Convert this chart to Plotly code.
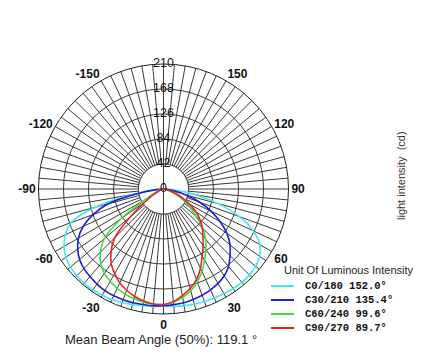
import plotly.graph_objects as go

# ---------------- data ----------------
angles = [0, 5, 10, 15, 20, 25, 30, 35, 40, 45, 50, 55, 60, 65, 70, 75, 80, 85, 90]

series_names = ["C0/180 152.0°", "C30/210 135.4°", "C60/240 99.6°", "C90/270 89.7°"]
series_colors = ["#45e6ee", "#1f1fd2", "#3fdc3f", "#e62424"]

# intensity (cd) on the positive side (0..90) and negative side (0..-90)
c0_right = [197, 198, 199, 200, 201, 202, 203, 204, 205, 204, 202, 197, 187, 166, 136, 95, 52, 20, 0]
c0_left = [197, 198, 199, 201, 203, 205, 206, 207, 207, 206, 204, 200, 193, 182, 165, 120, 55, 18, 0]
c30_right = [196, 195, 194, 192, 190, 187, 183, 178, 170, 158, 146, 130, 110, 88, 65, 40, 18, 6, 0]
c30_left = [196, 197, 197, 198, 198, 198, 197, 195, 192, 189, 184, 176, 165, 149, 126, 97, 45, 12, 0]
c60_right = [194, 191, 185, 177, 166, 153, 138, 124, 110, 93, 72, 55, 40, 27, 16, 8, 3, 1, 0]
c60_left = [194, 194, 193, 191, 188, 184, 179, 173, 164, 150, 130, 87, 35, 18, 10, 5, 2, 1, 0]
c90_right = [194, 190, 182, 173, 162, 147, 130, 116, 103, 92, 80, 66, 50, 35, 20, 10, 5, 2, 0]
c90_left = [194, 194, 191, 187, 181, 174, 164, 153, 137, 116, 72, 38, 20, 10, 5, 2, 1, 0, 0]

rights = [c0_right, c30_right, c60_right, c90_right]
lefts = [c0_left, c30_left, c60_left, c90_left]

radial_ticks = [0, 42, 84, 126, 168, 210]
angle_tick_labels = {0: "0", 30: "30", 60: "60", 90: "90", 120: "120", 150: "150",
                     210: "-150", 240: "-120", 270: "-90", 300: "-60", 330: "-30"}

legend_title = "Unit Of Luminous Intensity"
axis_title = "light intensity  (cd)"
footer = "Mean Beam Angle (50%): 119.1 °"

# ---------------- figure ----------------
W, H = 422, 362
GRID = "#3a3a3a"
SANS = "Liberation Sans, Arial, sans-serif"
MONO = "Liberation Mono, Courier New, monospace"

fig = go.Figure()

# white hole in the middle (covers spokes inside the first ring)
hole_theta = list(range(0, 361, 2))
fig.add_trace(go.Scatterpolar(
    r=[radial_ticks[1]] * len(hole_theta), theta=hole_theta, mode="lines",
    fill="toself", fillcolor="white", line=dict(color=GRID, width=1),
    hoverinfo="skip", showlegend=False))
# vertical line through the centre
fig.add_trace(go.Scatterpolar(
    r=[radial_ticks[1], radial_ticks[1]], theta=[180, 0], mode="lines",
    line=dict(color=GRID, width=1), hoverinfo="skip", showlegend=False))

for name, color, rr, ll in zip(series_names, series_colors, rights, lefts):
    theta = [-a for a in angles[::-1]] + angles[1:]
    r = ll[::-1] + rr[1:]
    fig.add_trace(go.Scatterpolar(
        r=r, theta=theta, mode="lines", name=name,
        line=dict(color=color, width=1.6, shape="spline", smoothing=0.8),
        showlegend=False))

# radial labels drawn along the top spoke
fig.add_trace(go.Scatterpolar(
    r=radial_ticks, theta=[180] * len(radial_ticks), mode="text",
    text=[str(v) for v in radial_ticks], textposition="middle center",
    textfont=dict(family=SANS, size=12.5, color="#111"),
    cliponaxis=False, hoverinfo="skip", showlegend=False))

tickvals = list(range(0, 360, 5))
ticktext = [angle_tick_labels.get(v, "") for v in tickvals]

cx, cy, R = 163.5, 189.0, 125.0
fig.update_layout(
    width=W, height=H, margin=dict(l=0, r=0, t=0, b=0),
    paper_bgcolor="white", plot_bgcolor="white",
    showlegend=False,
    polar=dict(
        domain=dict(x=[(cx - R) / W, (cx + R) / W], y=[(H - cy - R) / H, (H - cy + R) / H]),
        bgcolor="white",
        angularaxis=dict(rotation=270, direction="counterclockwise",
                         tickmode="array", tickvals=tickvals, ticktext=ticktext,
                         showgrid=True, gridcolor=GRID, gridwidth=1,
                         showline=True, linecolor="#222", linewidth=1,
                         ticks="", tickfont=dict(family=SANS, size=12, color="#111", weight="bold")),
        radialaxis=dict(range=[0, 210], tickmode="array", tickvals=radial_ticks[1:],
                        showticklabels=False, ticks="", showline=False,
                        showgrid=True, gridcolor=GRID, gridwidth=1),
    ),
)

# manual legend
ann = []
shapes = []
ann.append(dict(x=349 / W, y=1 - 270 / H, xref="paper", yref="paper", text=legend_title,
                showarrow=False, xanchor="center", yanchor="middle",
                font=dict(family=SANS, size=11, color="#222")))
row_y = 286
for name, color in zip(series_names, series_colors):
    shapes.append(dict(type="line", xref="paper", yref="paper",
                       x0=271 / W, x1=294 / W, y0=1 - row_y / H, y1=1 - row_y / H,
                       line=dict(color=color, width=2)))
    ann.append(dict(x=303 / W, y=1 - row_y / H, xref="paper", yref="paper", text=name,
                    showarrow=False, xanchor="left", yanchor="middle",
                    font=dict(family=MONO, size=10.5, color="#111", weight="bold")))
    row_y += 14

ann.append(dict(x=401 / W, y=1 - 176 / H, xref="paper", yref="paper", text=axis_title,
                showarrow=False, textangle=-90, xanchor="center", yanchor="middle",
                font=dict(family=SANS, size=11, color="#333")))
ann.append(dict(x=161 / W, y=1 - 339 / H, xref="paper", yref="paper", text=footer,
                showarrow=False, xanchor="center", yanchor="middle",
                font=dict(family=SANS, size=13, color="#222")))
fig.update_layout(annotations=ann, shapes=shapes)

fig.write_html("out.html", config={"displayModeBar": False},
               post_script="document.body.style.margin='0';document.body.style.padding='0';")
